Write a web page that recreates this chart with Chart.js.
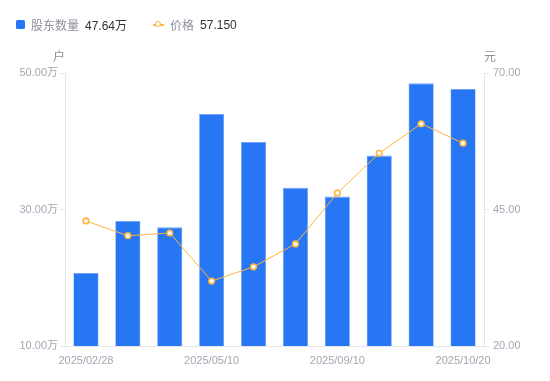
<!DOCTYPE html>
<html><head><meta charset="utf-8">
<script src="https://cdn.jsdelivr.net/npm/chart.js@4.4.1/dist/chart.umd.min.js"></script>
<style>
html,body{margin:0;padding:0;background:#fff;width:550px;height:381px;overflow:hidden;}
#wrap{position:relative;width:550px;height:381px;}
#legend{position:absolute;left:16px;top:16px;font-family:"Liberation Sans","Noto Sans CJK SC",sans-serif;font-size:12px;display:flex;align-items:center;z-index:2;}
.item{display:flex;align-items:center;margin-right:26px;}
.sq{width:9px;height:9px;background:#2777F5;border-radius:1.5px;margin-right:6px;}
.ln{position:relative;width:11px;height:9px;margin-right:6px;}
.ln:before{content:"";position:absolute;left:0;right:0;top:4px;height:1.5px;background:#FFB43C;}
.ln:after{content:"";position:absolute;left:2px;top:1px;width:4px;height:4px;border:1.6px solid #FFB43C;border-radius:50%;background:#fff;}
.nm{color:#8c909c;margin-right:6px;}
.vl{color:#333;}
canvas{position:absolute;left:0;top:0;}
</style></head>
<body><div id="wrap">
<div id="legend">
 <div class="item"><span class="sq"></span><span class="nm">股东数量</span><span class="vl">47.64万</span></div>
 <div class="item"><span class="ln"></span><span class="nm">价格</span><span class="vl">57.150</span></div>
</div>
<canvas id="c" width="550" height="381"></canvas>
</div>
<script>
const categories = ["2025/02/28","2025/03/20","2025/04/10","2025/05/10","2025/06/30","2025/08/10","2025/09/10","2025/09/30","2025/10/10","2025/10/20"];
const shownLabels = ["2025/02/28","2025/05/10","2025/09/10","2025/10/20"];
const holders = [20.7, 28.3, 27.4, 44.0, 39.9, 33.2, 31.9, 37.9, 48.5, 47.64]; // 万户
const prices = [42.9, 40.2, 40.7, 31.9, 34.5, 38.7, 48.0, 55.3, 60.7, 57.15]; // 元
const leftTicks = [10, 30, 50];
const rightTicks = [20, 45, 70];

const FONT = '"Liberation Sans","Noto Sans CJK SC",sans-serif';
const TICKC = '#a3a7b3';
const AXC = '#e4e6ea';

const unitPlugin = {
  id:'units',
  afterDraw(chart){
    const ctx = chart.ctx, a = chart.chartArea;
    ctx.save();
    ctx.fillStyle = '#8c909c';
    ctx.font = '12px ' + FONT;
    ctx.textAlign = 'center';
    ctx.textBaseline = 'middle';
    ctx.fillText('户', a.left - 6, a.top - 15);
    ctx.fillText('元', a.right + 6, a.top - 15);
    ctx.restore();
  }
};

new Chart(document.getElementById('c'), {
  data:{
    labels:categories,
    datasets:[
      {type:'line', label:'价格', data:prices, yAxisID:'y1', order:0,
       borderColor:'#FFB43C', borderWidth:1, pointRadius:2.8, pointBorderWidth:1.6,
       pointBackgroundColor:'#fff', pointBorderColor:'#FFB43C', tension:0},
      {type:'bar', label:'股东数量', data:holders, yAxisID:'y', order:1,
       backgroundColor:'#2777F5', borderColor:'#6ea3f8', borderWidth:{top:1,left:0.6,right:0.6,bottom:0},
       barPercentage:0.6, categoryPercentage:1.0}
    ]
  },
  options:{
    responsive:false, animation:false, devicePixelRatio:1,
    layout:{padding:{top:73,left:0,right:0,bottom:0}},
    plugins:{legend:{display:false}, tooltip:{enabled:false}},
    scales:{
      x:{
        grid:{display:false},
        border:{display:true,color:AXC},
        ticks:{autoSkip:false,maxRotation:0,color:TICKC,font:{size:11,family:FONT},padding:0,
          callback:function(v,i){const l=categories[i];return shownLabels.includes(l)?l:'';}},
        afterFit(s){s.height=35;}
      },
      y:{
        position:'left', min:10, max:50,
        afterBuildTicks(s){s.ticks=leftTicks.map(v=>({value:v}));},
        grid:{drawOnChartArea:false,color:AXC,tickLength:5},
        border:{display:true,color:AXC},
        ticks:{color:TICKC,font:{size:11,family:FONT},padding:2,
          callback:v=>v.toFixed(2)+'万'},
        afterFit(s){s.width=65;}
      },
      y1:{
        position:'right', min:20, max:70,
        afterBuildTicks(s){s.ticks=rightTicks.map(v=>({value:v}));},
        grid:{drawOnChartArea:false,color:AXC,tickLength:5},
        border:{display:true,color:AXC},
        ticks:{color:TICKC,font:{size:11,family:FONT},padding:4,
          callback:v=>v.toFixed(2)},
        afterFit(s){s.width=66;}
      }
    }
  },
  plugins:[unitPlugin]
});
</script>
</body></html>
